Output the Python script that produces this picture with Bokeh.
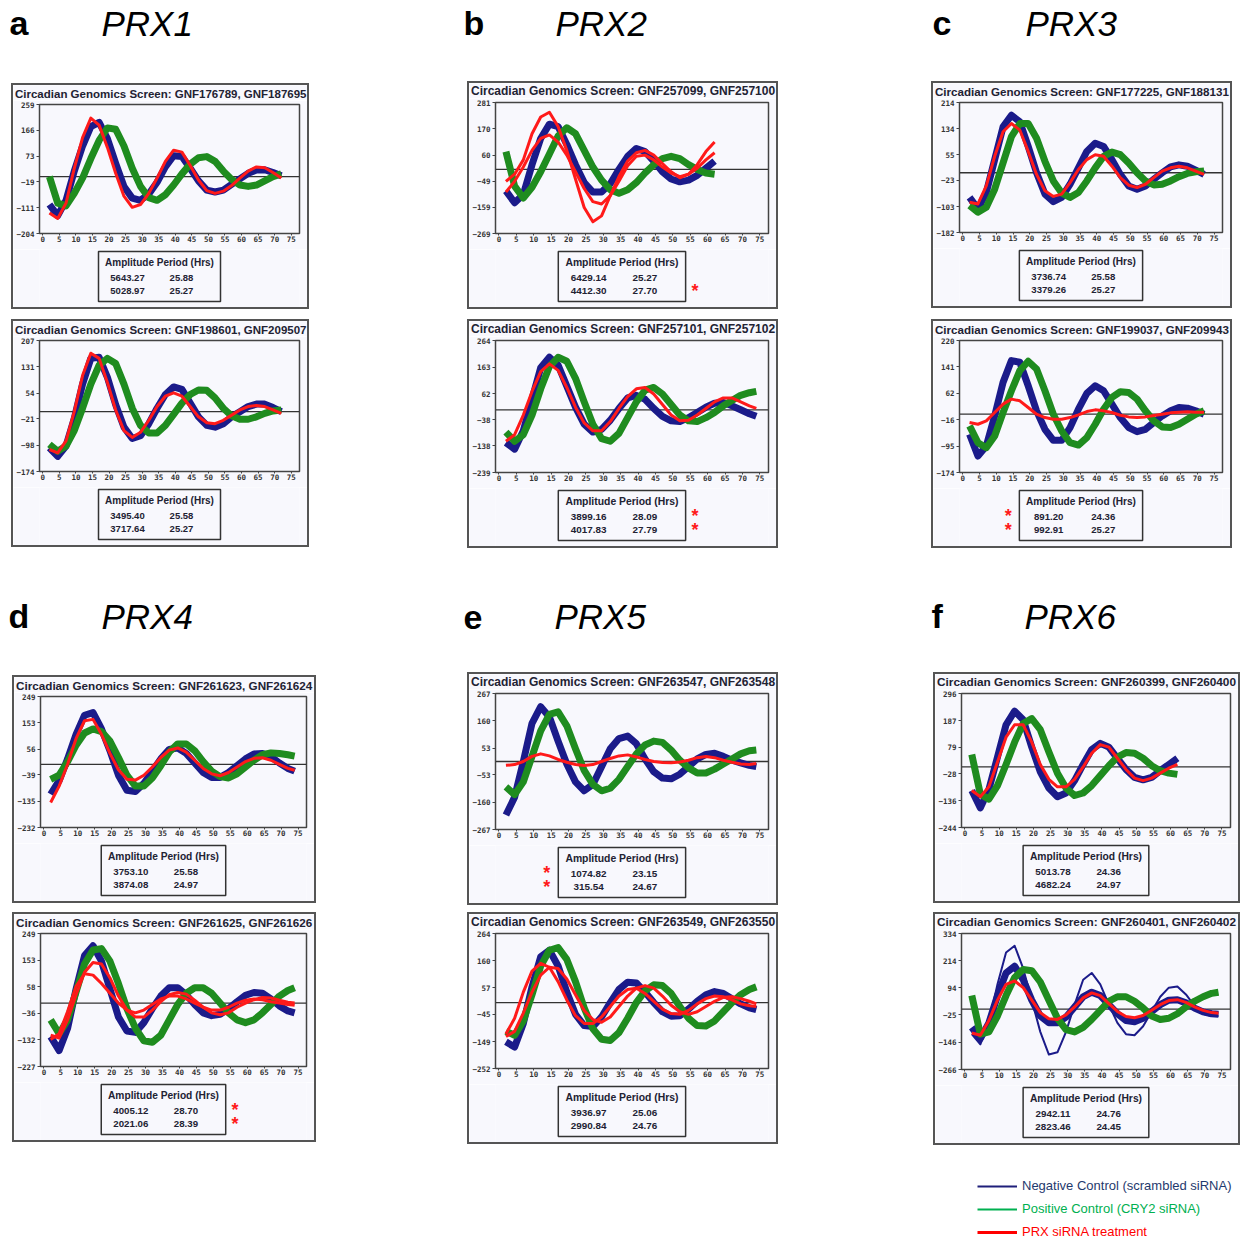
from bokeh.plotting import figure
from bokeh.layouts import row, column
from bokeh.models import Range1d, FixedTicker, Span, Spacer, Legend, LegendItem
from bokeh.embed import file_html
from bokeh.resources import INLINE
from bokeh.core.properties import value

# ---------------- data ----------------
T = [2, 4.5, 7, 9.5, 12, 14.5, 17, 19.5, 22, 24.5, 27, 29.5, 32, 34.5, 37,
     39.5, 42, 44.5, 47, 49.5, 52, 54.5, 57, 59.5, 62, 64.5, 67, 69.5, 72, 74]
X_TICKS = [0, 5, 10, 15, 20, 25, 30, 35, 40, 45, 50, 55, 60, 65, 70, 75]

PANEL_KEYS = ["a1", "a2", "b1", "b2", "c1", "c2", "d1", "d2", "e1", "e2", "f1", "f2"]
LETTERS = ["a", "b", "c", "d", "e", "f"]
GENES = ["PRX1", "PRX2", "PRX3", "PRX4", "PRX5", "PRX6"]

SCREEN_IDS = ["GNF176789, GNF187695", "GNF198601, GNF209507",
              "GNF257099, GNF257100", "GNF257101, GNF257102",
              "GNF177225, GNF188131", "GNF199037, GNF209943",
              "GNF261623, GNF261624", "GNF261625, GNF261626",
              "GNF263547, GNF263548", "GNF263549, GNF263550",
              "GNF260399, GNF260400", "GNF260401, GNF260402"]

Y_TICKS = [[-204, -111, -19, 73, 166, 259], [-174, -98, -21, 54, 131, 207],
           [-269, -159, -49, 60, 170, 281], [-239, -138, -38, 62, 163, 264],
           [-182, -103, -23, 55, 134, 214], [-174, -95, -16, 62, 141, 220],
           [-232, -135, -39, 56, 153, 249], [-227, -132, -36, 58, 153, 249],
           [-267, -160, -53, 53, 160, 267], [-252, -149, -45, 57, 160, 264],
           [-244, -136, -28, 79, 187, 296], [-266, -146, -25, 94, 214, 334]]

AMPLITUDES = [["5643.27", "5028.97"], ["3495.40", "3717.64"],
              ["6429.14", "4412.30"], ["3899.16", "4017.83"],
              ["3736.74", "3379.26"], ["891.20", "992.91"],
              ["3753.10", "3874.08"], ["4005.12", "2021.06"],
              ["1074.82", "315.54"], ["3936.97", "2990.84"],
              ["5013.78", "4682.24"], ["2942.11", "2823.46"]]
PERIODS = [["25.88", "25.27"], ["25.58", "25.27"],
           ["25.27", "27.70"], ["28.09", "27.79"],
           ["25.58", "25.27"], ["24.36", "25.27"],
           ["25.58", "24.97"], ["28.70", "28.39"],
           ["23.15", "24.67"], ["25.06", "24.76"],
           ["24.36", "24.97"], ["24.76", "24.45"]]
STARS = [[0, 0], [0, 0], [0, 1], [1, 1], [0, 0], [1, 1],
         [0, 0], [1, 1], [1, 1], [0, 0], [0, 0], [0, 0]]
STAR_SIDE = ["right", "right", "right", "right", "left", "left",
             "right", "right", "left", "left", "right", "right"]

A1_BLUE = [-100, -140, -85, 20, 110, 180, 195, 137, 48, -35, -77, -85, -62, -20, 35, 75, 72, 30, -15, -48, -55, -48, -28, -8, 12, 24, 25, 15, 3]
A1_GREEN = [0, -95, -105, -60, -5, 65, 130, 175, 170, 110, 30, -35, -75, -85, -65, -30, 10, 45, 68, 72, 55, 20, -10, -30, -35, -30, -15, 0, 10]
A1_RED = [-130, -150, -95, 30, 140, 210, 185, 105, 12, -70, -110, -100, -60, -5, 55, 95, 88, 40, -12, -50, -60, -52, -32, -5, 20, 35, 32, 15, -5]

A2_BLUE = [-105, -130, -100, -20, 80, 155, 158, 100, 20, -45, -78, -70, -35, 10, 50, 72, 65, 25, -15, -40, -45, -35, -15, 0, 15, 22, 22, 12, 0]
A2_GREEN = [-95, -115, -100, -55, 10, 80, 135, 155, 140, 80, 10, -40, -62, -62, -40, -8, 25, 50, 63, 62, 40, 10, -12, -22, -22, -15, -5, 2, 5]
A2_RED = [-110, -120, -85, 0, 105, 170, 155, 85, 5, -55, -75, -60, -25, 15, 45, 55, 45, 15, -15, -32, -35, -25, -10, 5, 15, 18, 15, 5, -5]

B1_BLUE = [-90, -140, -105, 20, 130, 190, 180, 105, 20, -55, -95, -95, -60, 0, 55, 88, 75, 35, -10, -40, -52, -45, -25, 5, 35]
B1_GREEN = [75, -70, -120, -75, -10, 65, 140, 175, 150, 80, 10, -45, -85, -100, -85, -55, -15, 20, 45, 55, 45, 20, 0, -15, -20]
B1_RED1 = [-50, -20, 40, 150, 220, 240, 180, 80, -40, -160, -220, -195, -110, -30, 35, 70, 80, 60, 25, -10, -35, -20, 20, 75, 115]
B1_RED2 = [-95, -50, 10, 80, 130, 145, 115, 60, -10, -80, -135, -145, -110, -50, 15, 55, 60, 40, 10, -15, -30, -20, 5, 40, 70]

B2_BLUE = [-125, -150, -80, 40, 160, 200, 170, 90, 10, -55, -85, -75, -40, 5, 45, 55, 40, 5, -25, -42, -45, -30, -10, 10, 25, 28, 15, 0, -15, -25]
B2_GREEN = [-85, -120, -95, -20, 80, 165, 200, 185, 120, 30, -55, -110, -120, -90, -30, 30, 75, 85, 60, 20, -20, -42, -45, -30, -10, 15, 35, 55, 65, 70]
B2_RED = [-120, -95, -20, 70, 145, 175, 150, 85, 10, -50, -80, -80, -45, 5, 50, 80, 85, 60, 20, -20, -42, -40, -20, 5, 30, 45, 45, 30, 15, 5]

C1_BLUE = [-75, -110, -60, 40, 140, 175, 155, 80, 0, -65, -88, -75, -35, 15, 65, 90, 80, 40, -5, -40, -50, -40, -20, 0, 18, 24, 20, 8, -5]
C1_GREEN = [-100, -120, -105, -50, 30, 110, 150, 150, 105, 35, -25, -62, -75, -60, -25, 15, 50, 63, 55, 30, 0, -25, -37, -35, -25, -12, -2, 3, 5]
C1_RED = [-90, -95, -40, 50, 125, 150, 130, 65, -5, -55, -72, -65, -30, 10, 40, 55, 50, 20, -15, -38, -45, -35, -15, 5, 15, 20, 15, 5, -5]

C2_BLUE = [-60, -125, -95, -5, 95, 160, 155, 85, 10, -45, -78, -78, -40, 15, 62, 85, 70, 30, -10, -40, -52, -45, -25, -5, 10, 20, 18, 10, 0]
C2_GREEN = [-35, -85, -100, -65, 5, 70, 130, 158, 135, 70, 0, -50, -85, -92, -70, -30, 15, 50, 67, 65, 45, 10, -20, -38, -40, -30, -15, 0, 10]
C2_RED = [-25, -30, -20, 5, 30, 45, 40, 20, 0, -10, -15, -15, -10, -2, 8, 13, 10, 5, -3, -8, -10, -8, -4, 0, 4, 6, 7, 6, 6]

D1_BLUE = [-110, -60, 20, 110, 180, 190, 130, 50, -40, -95, -100, -70, -25, 20, 55, 60, 40, 5, -30, -48, -48, -30, -5, 20, 38, 40, 28, 5, -15, -25]
D1_GREEN = [-55, -40, 10, 70, 115, 130, 120, 85, 25, -40, -80, -80, -50, -5, 45, 75, 75, 50, 10, -25, -45, -50, -35, -10, 15, 35, 42, 40, 35, 30]
D1_RED = [-140, -80, 0, 95, 160, 165, 110, 40, -20, -55, -58, -40, -10, 25, 52, 60, 45, 15, -15, -35, -42, -30, -10, 10, 22, 24, 15, 0, -15, -22]

D2_BLUE = [-120, -170, -90, 50, 170, 205, 150, 50, -50, -100, -105, -70, -20, 25, 55, 55, 30, -5, -35, -45, -40, -20, 5, 28, 38, 35, 15, -10, -28, -35]
D2_GREEN = [-60, -110, -60, 40, 140, 190, 195, 150, 70, -20, -90, -135, -140, -115, -60, -5, 35, 55, 55, 35, 0, -35, -60, -70, -60, -35, -5, 25, 45, 55]
D2_RED1 = [-115, -125, -60, 30, 110, 145, 140, 90, 25, -25, -50, -50, -25, 5, 30, 38, 32, 10, -15, -35, -42, -35, -15, 0, 12, 20, 18, 10, 3, 0]
D2_RED2 = [-130, -110, -30, 60, 105, 100, 70, 35, 0, -25, -35, -25, -5, 15, 25, 25, 15, 0, -15, -25, -25, -15, 0, 10, 15, 12, 5, 0, -5, -8]

E1_BLUE = [-210, -140, 0, 150, 215, 175, 80, -10, -80, -115, -90, -20, 50, 90, 100, 70, 10, -40, -65, -68, -50, -20, 10, 28, 32, 20, 5, -5, -15, -20]
E1_GREEN = [-100, -130, -80, 20, 120, 185, 195, 140, 50, -35, -90, -115, -105, -70, -20, 30, 65, 80, 75, 45, 5, -25, -45, -45, -30, -10, 10, 30, 42, 45]
E1_RED = [-15, -12, 0, 20, 30, 22, 8, -3, -12, -16, -12, 0, 12, 22, 26, 18, 8, 0, -4, -5, -2, 5, 15, 20, 15, 5, -3, -10, -12, -8]

E2_BLUE = [-150, -170, -80, 60, 175, 200, 140, 40, -45, -88, -92, -55, 0, 50, 78, 75, 40, 0, -35, -52, -50, -25, 5, 30, 42, 35, 15, -5, -20, -27]
E2_GREEN = [-110, -125, -70, 30, 140, 200, 210, 165, 80, -20, -100, -140, -145, -115, -60, 0, 45, 68, 65, 35, -15, -60, -88, -90, -70, -35, 0, 30, 50, 60]
E2_RED1 = [-120, -60, 40, 120, 150, 135, 80, 10, -50, -80, -80, -55, -15, 25, 50, 55, 35, 5, -25, -42, -45, -30, -5, 15, 25, 22, 10, -5, -12, -15]
E2_RED2 = [-130, -110, -40, 40, 105, 135, 130, 90, 30, -30, -65, -75, -55, -15, 25, 55, 65, 55, 25, -10, -35, -45, -35, -15, 5, 20, 22, 15, 5, -5]

F1_BLUE = [-95, -165, -90, 40, 170, 225, 190, 80, -20, -85, -120, -105, -55, 10, 70, 95, 80, 35, -10, -42, -52, -42, -15, 10, 35]
F1_GREEN = [50, -110, -130, -75, 10, 100, 175, 195, 150, 60, -25, -85, -115, -105, -75, -35, 5, 40, 58, 55, 35, 5, -15, -25, -30]
F1_RED = [-95, -120, -80, 20, 120, 170, 170, 100, 10, -50, -80, -80, -50, 0, 55, 90, 80, 35, -10, -45, -55, -45, -25, -5, 10]

F2_BLUE1 = [-110, -155, -60, 110, 250, 280, 180, 40, -100, -200, -190, -100, 20, 130, 160, 110, 20, -60, -110, -115, -75, -10, 55, 95, 100, 65, 15, -20, -30, -30]
F2_BLUE2 = [-80, -130, -60, 60, 160, 190, 130, 40, -30, -60, -60, -35, 10, 55, 75, 60, 20, -20, -50, -55, -40, -10, 20, 40, 42, 28, 5, -12, -20, -22]
F2_GREEN = [60, -110, -100, -30, 60, 140, 175, 170, 120, 40, -40, -90, -100, -80, -45, -5, 35, 55, 55, 35, 5, -30, -45, -40, -20, 10, 35, 55, 70, 75]
F2_RED = [-105, -115, -50, 40, 110, 125, 95, 40, -15, -42, -45, -25, 10, 50, 72, 60, 25, -10, -32, -38, -28, -5, 20, 38, 42, 30, 10, -5, -15, -18]

SERIES = {
    "a1": [("blue", A1_BLUE), ("green", A1_GREEN), ("red", A1_RED)],
    "a2": [("blue", A2_BLUE), ("green", A2_GREEN), ("red", A2_RED)],
    "b1": [("blue", B1_BLUE), ("green", B1_GREEN), ("red", B1_RED1), ("red", B1_RED2)],
    "b2": [("blue", B2_BLUE), ("green", B2_GREEN), ("red", B2_RED)],
    "c1": [("blue", C1_BLUE), ("green", C1_GREEN), ("red", C1_RED)],
    "c2": [("blue", C2_BLUE), ("green", C2_GREEN), ("red", C2_RED)],
    "d1": [("blue", D1_BLUE), ("green", D1_GREEN), ("red", D1_RED)],
    "d2": [("blue", D2_BLUE), ("green", D2_GREEN), ("red", D2_RED1), ("red", D2_RED2)],
    "e1": [("blue", E1_BLUE), ("green", E1_GREEN), ("red", E1_RED)],
    "e2": [("blue", E2_BLUE), ("green", E2_GREEN), ("red", E2_RED1), ("red", E2_RED2)],
    "f1": [("blue", F1_BLUE), ("green", F1_GREEN), ("red", F1_RED)],
    "f2": [("bluethin", F2_BLUE1), ("blue", F2_BLUE2), ("green", F2_GREEN), ("red", F2_RED)],
}

LEGEND_LABELS = ["Negative Control (scrambled siRNA)", "Positive Control (CRY2 siRNA)", "PRX siRNA treatment"]

# ---------------- styles / layout ----------------
NAVY = "#1b1b8a"
GREEN = "#1f8c1f"
RED = "#ff1a1a"
STYLE = {"blue": (NAVY, 7), "bluethin": (NAVY, 2), "green": (GREEN, 7), "red": (RED, 3)}
BG = "#f8f8fd"
TXT = "#222233"
BW = 2
TABLE_H = 58
TITLE_H = 15
ML, MR, MT, MB = 26, 8, 4, 16
X0, X1 = -1, 77.5
DESC = 0.2  # descent fraction used with "bottom" text baseline

GEOM = {"a1": (298, 226), "a2": (298, 228), "b1": (311, 228), "b2": (311, 229),
        "c1": (301, 227), "c2": (301, 229), "d1": (304, 228), "d2": (304, 230),
        "e1": (311, 233), "e2": (311, 232), "f1": (307, 231), "f2": (307, 233)}


def plain_fig(width, height, xr, yr, bg, ml=0, mr=0):
    f = figure(width=width, height=height, x_range=Range1d(*xr), y_range=Range1d(*yr),
               x_axis_type=None, y_axis_type=None, output_backend="svg", toolbar_location=None,
               title_location=None, min_border_left=ml, min_border_right=mr, min_border_top=0,
               min_border_bottom=0, outline_line_color=None, background_fill_color=bg,
               border_fill_color=bg)
    return f


def make_panel(i):
    key = PANEL_KEYS[i]
    w, h = GEOM[key]
    s = w / 298.0
    iw, ih = w - 2 * BW, h - 2 * BW
    plot_h = ih - TABLE_H - TITLE_H
    yt = Y_TICKS[i]
    lo, hi = yt[0], yt[-1]

    # title strip (own figure, full-width frame; x data == canvas pixels)
    tf = plain_fig(iw, TITLE_H, (0, iw), (0, TITLE_H), BG)
    fs_t = 11.5 * s
    tf.text(x=[1.5], y=[TITLE_H - 12.5 - DESC * fs_t], text=["Circadian Genomics Screen: " + SCREEN_IDS[i]],
            text_align="left", text_baseline="bottom", text_font=value("Liberation Sans"),
            text_font_size="%.1fpx" % fs_t, text_font_style="bold", text_color=TXT)

    p = figure(width=iw, height=plot_h, x_range=Range1d(X0, X1), y_range=Range1d(lo, hi),
               output_backend="svg", toolbar_location=None, title_location=None,
               min_border_left=ML, min_border_right=MR, min_border_top=MT, min_border_bottom=MB,
               background_fill_color=BG, border_fill_color=BG)
    p.xaxis.ticker = FixedTicker(ticks=X_TICKS)
    p.yaxis.ticker = FixedTicker(ticks=yt)
    for ax in (p.xaxis[0], p.yaxis[0]):
        ax.major_label_text_font = "DejaVu Sans Mono"
        ax.major_label_text_font_size = "7.5px"
        ax.major_label_text_font_style = "bold"
        ax.major_label_text_color = "#333333"
        ax.major_tick_in = 0
        ax.minor_tick_out = 0
        ax.minor_tick_in = 0
        ax.axis_line_color = "#444444"
        ax.major_tick_line_color = "#444444"
    p.xaxis[0].major_tick_out = 2
    p.xaxis[0].major_label_standoff = 0
    p.yaxis[0].major_tick_out = 3
    p.yaxis[0].major_label_standoff = 2
    p.grid.visible = False
    p.outline_line_color = "#444444"
    p.outline_line_width = 1.5
    p.add_layout(Span(location=0, dimension="width", line_color="#333333", line_width=1.3, level="underlay"))
    for kind, vals in SERIES[key]:
        col, lw = STYLE[kind]
        p.line(x=T[:len(vals)], y=vals, line_color=col, line_width=lw, line_join="round")

    # table (its frame is aligned with the plot frame above it; x data == canvas pixels)
    t = plain_fig(iw, TABLE_H, (ML, iw - MR), (0, TABLE_H), BG, ML, MR)
    bl = 87 * s - BW
    bw = 122 * s
    top = TABLE_H - 2
    t.quad(left=[bl], right=[bl + bw], top=[top], bottom=[top - 50], fill_color=None,
           line_color="#333333", line_width=1.5)
    common = dict(text_align="center", text_baseline="bottom",
                  text_font=value("Liberation Sans"), text_font_style="bold", text_color=TXT)
    fhd, fv = 10 * s, 9.5 * s
    t.text(x=[bl + bw / 2], y=[top - 14.5 - DESC * fhd], text=["Amplitude Period (Hrs)"],
           text_font_size="%.1fpx" % fhd, **common)
    rows_y = [top - 27.5 - DESC * fv, top - 40.5 - DESC * fv]
    t.text(x=[bl + 29 * s] * 2, y=rows_y, text=AMPLITUDES[i], text_font_size="%.1fpx" % fv, **common)
    t.text(x=[bl + 83 * s] * 2, y=rows_y, text=PERIODS[i], text_font_size="%.1fpx" % fv, **common)
    sx = bl + bw + 9 * s if STAR_SIDE[i] == "right" else bl - 11 * s
    centers = [top - 25.5, top - 39]
    ys = [c - 6.5 - DESC * 18 for c, f in zip(centers, STARS[i]) if f]
    if ys:
        t.text(x=[sx] * len(ys), y=ys, text=["*"] * len(ys), text_align="center",
               text_baseline="bottom", text_font=value("Liberation Sans"),
               text_font_size="18px", text_font_style="bold", text_color=RED)
    return column(tf, column(p, t), styles={"border": "%dpx solid #555555" % BW})


def make_col(i_top, offsets):
    top_off, gap, bot = offsets
    kids = []
    if top_off:
        kids.append(Spacer(width=1, height=top_off))
    kids.append(make_panel(i_top))
    kids.append(Spacer(width=1, height=gap))
    kids.append(make_panel(i_top + 1))
    if bot:
        kids.append(Spacer(width=1, height=bot))
    return column(*kids)


def header(height, baselines, letters, genes, lx, gx, gbase):
    h = plain_fig(1243, height, (0, 1243), (0, height), "white")
    h.text(x=lx, y=[height - b - DESC * 34 for b in baselines], text=letters,
           text_font=value("Liberation Sans"), text_baseline="bottom", text_font_size="34px",
           text_font_style="bold", text_color="black")
    h.text(x=gx, y=[height - gbase - DESC * 35] * 3, text=genes,
           text_font=value("Liberation Sans"), text_baseline="bottom", text_font_size="35px",
           text_font_style="italic", text_color="black")
    return h


h1 = header(80, [35, 35, 35], LETTERS[:3], GENES[:3], [9, 463, 932], [101, 555, 1025], 35)
h2 = header(122, [80, 74, 80], LETTERS[3:], GENES[3:], [8, 463, 931], [101, 554, 1024], 80)

row1 = row(Spacer(width=11, height=1), make_col(0, (3, 10, 1)), Spacer(width=158, height=1),
           make_col(2, (1, 10, 0)), Spacer(width=153, height=1), make_col(4, (1, 11, 0)))
row2 = row(Spacer(width=12, height=1), make_col(6, (5, 9, 4)), Spacer(width=151, height=1),
           make_col(8, (2, 7, 2)), Spacer(width=155, height=1), make_col(10, (2, 9, 1)))

lf = plain_fig(1243, 96, (0, 1), (0, 1), "white")
leg_cols = [("#1f1f7a", "#1f3a6e", 2), ("#00b050", "#00b050", 2), ("#ff0000", "#ff0000", 3)]
leg_y = [49, 26, 3]
for lab, (lc, tc, lw), ly in zip(LEGEND_LABELS, leg_cols, leg_y):
    # key renderer kept outside the visible range; only its legend sample is shown
    r = lf.line(x=[-10, -9], y=[-10, -10], line_color=lc, line_width=lw)
    lg = Legend(items=[LegendItem(label=lab, renderers=[r])], location=(977, ly),
                padding=0, margin=0, border_line_color=None, background_fill_alpha=0,
                glyph_width=40, glyph_height=14, label_height=14, label_standoff=5, spacing=0,
                label_text_font="Liberation Sans", label_text_font_size="13px",
                label_text_color=tc)
    lf.add_layout(lg)

layout = column(h1, row1, h2, row2, lf)
open("out.html", "w").write(file_html(layout, INLINE, title="PRX circadian screens"))
